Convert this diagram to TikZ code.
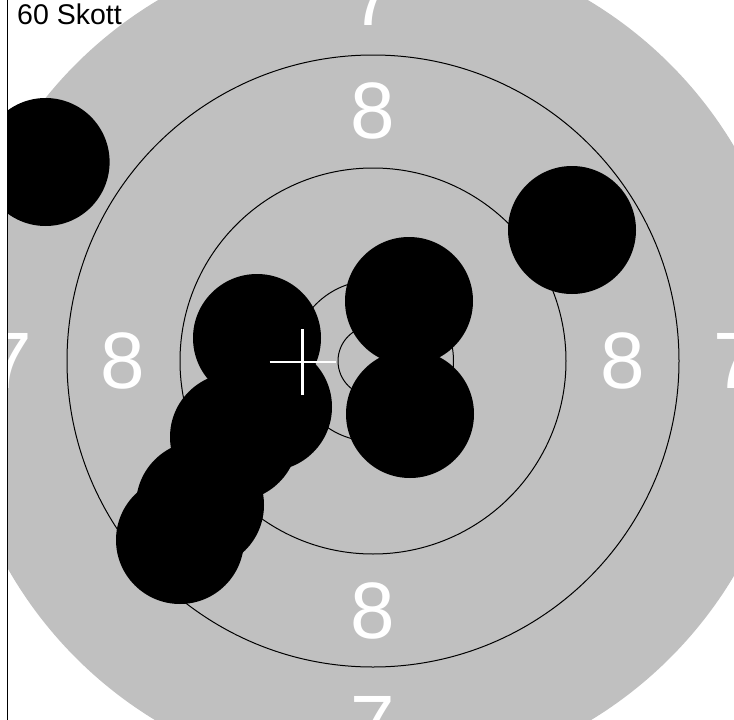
\documentclass[tikz,border=0pt]{standalone}
\usepackage{fontspec}
\setmainfont{Liberation Sans}
\definecolor{targetgray}{RGB}{192,192,192}
\tikzset{
  ring/.style={draw=black, line width=1pt},
  shot/.style={fill=black},
  ringnum/.style={text=white, inner sep=0pt, font=\fontsize{80}{80}\selectfont},
  crossline/.style={draw=white, line width=2.5pt}
}
\begin{document}
\begin{tikzpicture}[x=1pt,y=-1pt]
\useasboundingbox (0,0) rectangle (734,720);
\fill[white] (0,0) rectangle (734,720);
\begin{scope}
\clip (8,0) rectangle (734,720);
\coordinate (c) at (373,361);
\fill[targetgray] (c) circle[radius=420pt];
\draw[ring] (c) circle[radius=306pt];
\draw[ring] (c) circle[radius=193pt];
\draw[ring] (c) circle[radius=80.5pt];
\draw[ring] (c) circle[radius=35pt];
\node[ringnum] (e1) at (373,111) {8};
\node[ringnum] (e2) at (373,611) {8};
\node[ringnum] (e3) at (123,361) {8};
\node[ringnum] (e4) at (623,361) {8};
\node[ringnum] (s1) at (373,-2) {7};
\node[ringnum] (s2) at (373,724) {7};
\node[ringnum] (s3) at (10,361) {7};
\node[ringnum] (s4) at (736,361) {7};
\fill[shot] (45.6,162) circle[radius=64pt];
\fill[shot] (572,230) circle[radius=64pt];
\fill[shot] (409,301) circle[radius=64pt];
\fill[shot] (410,414) circle[radius=64pt];
\fill[shot] (257,338) circle[radius=64pt];
\fill[shot] (268,407) circle[radius=64pt];
\fill[shot] (234,437) circle[radius=64pt];
\fill[shot] (200,505) circle[radius=64pt];
\fill[shot] (180,540) circle[radius=64pt];
\coordinate (xc) at (302.7,362);
\draw[crossline] ([xshift=-33pt]xc) -- ([xshift=33pt]xc);
\draw[crossline] ([yshift=-33pt]xc) -- ([yshift=33pt]xc);
\end{scope}
\draw[black, line width=1.5pt] (7.5,0) -- (7.5,720);
\node[anchor=base west, inner sep=0pt, font=\fontsize{28.5}{28.5}\selectfont] (title) at (17,24.5) {60 Skott};
\end{tikzpicture}
\end{document}
